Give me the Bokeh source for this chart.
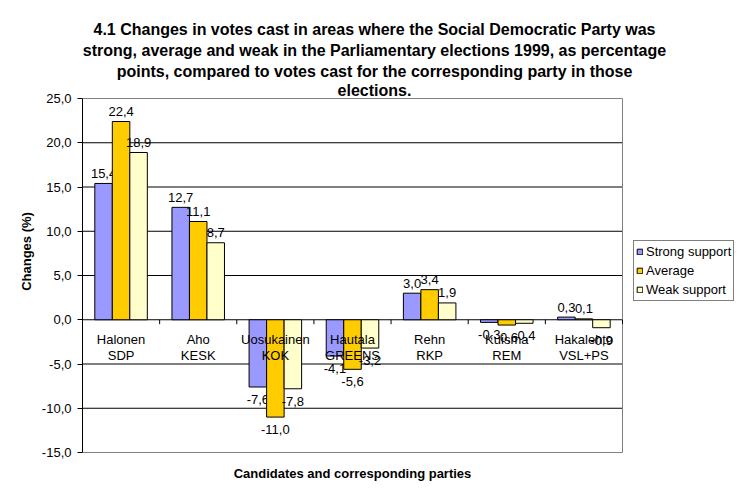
from bokeh.plotting import figure
from bokeh.models import (Range1d, FixedTicker, CustomJSTickFormatter,
                          Legend, LegendItem, ColumnDataSource)
from bokeh.core.properties import value
from bokeh.embed import file_html
from bokeh.resources import INLINE

candidates = ["Halonen", "Aho", "Uosukainen", "Hautala", "Rehn", "Kuisma", "Hakalehto"]
parties = ["SDP", "KESK", "KOK", "GREENS", "RKP", "REM", "VSL+PS"]
series_names = ["Strong support", "Average", "Weak support"]
strong = [15.4, 12.7, -7.6, -4.1, 3.0, -0.3, 0.3]
average = [22.4, 11.1, -11.0, -5.6, 3.4, -0.6, 0.1]
weak = [18.9, 8.7, -7.8, -3.2, 1.9, -0.4, -0.9]
y_ticks = [-15, -10, -5, 0, 5, 10, 15, 20, 25]

title_lines = [
    "4.1 Changes in votes cast in areas where the Social Democratic Party was",
    "strong, average and weak in the Parliamentary elections 1999, as percentage",
    "points, compared to votes cast for the corresponding party in those",
    "elections.",
]
x_title = "Candidates and corresponding parties"
y_title = "Changes (%)"

colors = ["#9999FF", "#FFCC00", "#FFFFCC"]
FONT = "Liberation Sans"
FS = "13px"

# pixel geometry of the plotting area (page pixels)
W, H = 748, 502
PL, PR, PT, PB = 82, 622, 98, 452
n = len(candidates)
ymin, ymax = y_ticks[0], y_ticks[-1]
ppx = (PR - PL) / n                 # pixels per category
ppy = (PB - PT) / (ymax - ymin)     # pixels per unit
y0px = PT + ymax * ppy              # pixel row of value 0


def dx(px):
    return (px - PL) / ppx


def dy(py):
    return (y0px - py) / ppy


p = figure(width=W, height=H, output_backend="svg", toolbar_location=None,
           x_range=Range1d(0, dx(W)), y_range=Range1d(dy(H), dy(0)),
           x_axis_location=None,
           min_border_left=PL, min_border_right=0,
           min_border_top=0, min_border_bottom=0)
p.outline_line_color = None
p.grid.visible = False

# y axis (limited to the chart's own range)
ya = p.yaxis[0]
ya.bounds = (ymin, ymax)
ya.ticker = FixedTicker(ticks=y_ticks)
ya.formatter = CustomJSTickFormatter(code="return tick.toFixed(1).replace('.', ',');")
ya.axis_line_color = "black"
ya.major_tick_line_color = "black"
ya.major_tick_out = 5
ya.major_tick_in = 0
ya.minor_tick_line_color = None
ya.major_label_text_font = FONT
ya.major_label_text_font_size = FS
ya.major_label_text_color = "black"
ya.major_label_standoff = 6
ya.axis_label = y_title
ya.axis_label_text_font = FONT
ya.axis_label_text_font_size = FS
ya.axis_label_text_font_style = "bold"
ya.axis_label_text_color = "black"
ya.axis_label_standoff = 5

# horizontal grid lines (inner ticks)
grid_ticks = [t for t in y_ticks if ymin < t < ymax]
p.segment(x0=[0] * len(grid_ticks), x1=[n] * len(grid_ticks), y0=grid_ticks, y1=grid_ticks,
          line_color="black", line_width=1)
# grey plot-area border (top, right, bottom)
p.multi_line(xs=[[0, n, n, 0]], ys=[[ymax, ymax, ymin, ymin]],
             line_color="#808080", line_width=1)

# bars
width = 0.227
offsets = [-width, 0.0, width]
renderers = []
for vals, col, off in zip([strong, average, weak], colors, offsets):
    xs = [i + 0.5 + off for i in range(n)]
    labels = [f"{v:.1f}".replace(".", ",") for v in vals]
    src = ColumnDataSource(dict(x=xs, top=vals))
    r = p.vbar(x="x", top="top", bottom=0, width=width, source=src,
               fill_color=col, line_color="black", line_width=1)
    renderers.append(r)
    pos = ColumnDataSource(dict(x=[x for x, v in zip(xs, vals) if v >= 0],
                                y=[v for v in vals if v >= 0],
                                t=[l for l, v in zip(labels, vals) if v >= 0]))
    neg = ColumnDataSource(dict(x=[x for x, v in zip(xs, vals) if v < 0],
                                y=[v for v in vals if v < 0],
                                t=[l for l, v in zip(labels, vals) if v < 0]))
    p.text(x="x", y="y", text="t", source=pos, text_align="center",
           text_baseline="alphabetic", y_offset=-10, text_font=value(FONT),
           text_font_size=FS, text_color="black")
    p.text(x="x", y="y", text="t", source=neg, text_align="center",
           text_baseline="top", y_offset=8, text_font=value(FONT),
           text_font_size=FS, text_color="black")

# category tick marks on the zero line
bounds = list(range(n + 1))
p.segment(x0=bounds, y0=[0] * len(bounds), x1=bounds, y1=[-0.5] * len(bounds),
          line_color="black", line_width=1)

# category labels
cx = [i + 0.5 for i in range(n)]
p.text(x=cx, y=[0] * n, text=candidates, text_align="center", text_baseline="middle",
       y_offset=20, text_font=value(FONT), text_font_size=FS, text_color="black")
p.text(x=cx, y=[0] * n, text=parties, text_align="center", text_baseline="middle",
       y_offset=36, text_font=value(FONT), text_font_size=FS, text_color="black")

# title
p.text(x=[dx(374)] * len(title_lines), y=[dy(v) for v in (29, 50, 71, 90)],
       text=title_lines, text_align="center", text_baseline="middle",
       text_font=value(FONT), text_font_size="16px", text_font_style="bold",
       text_color="black")

# x axis title
p.text(x=[dx((PL + PR) / 2)], y=[dy(473)], text=[x_title], text_align="center",
       text_baseline="middle", text_font=value(FONT), text_font_size=FS,
       text_font_style="bold", text_color="black")

# legend
legend = Legend(items=[LegendItem(label=nm, renderers=[r]) for nm, r in zip(series_names, renderers)],
                location=(633 - PL, H - 301))
legend.label_text_font = FONT
legend.label_text_font_size = FS
legend.label_text_color = "black"
legend.glyph_width = 7
legend.glyph_height = 7
legend.label_height = 17
legend.label_standoff = 3
legend.spacing = 2
legend.padding = 2
legend.margin = 0
legend.border_line_color = "black"
legend.border_line_width = 1
legend.background_fill_alpha = 1.0
p.add_layout(legend)

open("out.html", "w").write(file_html(p, INLINE))
